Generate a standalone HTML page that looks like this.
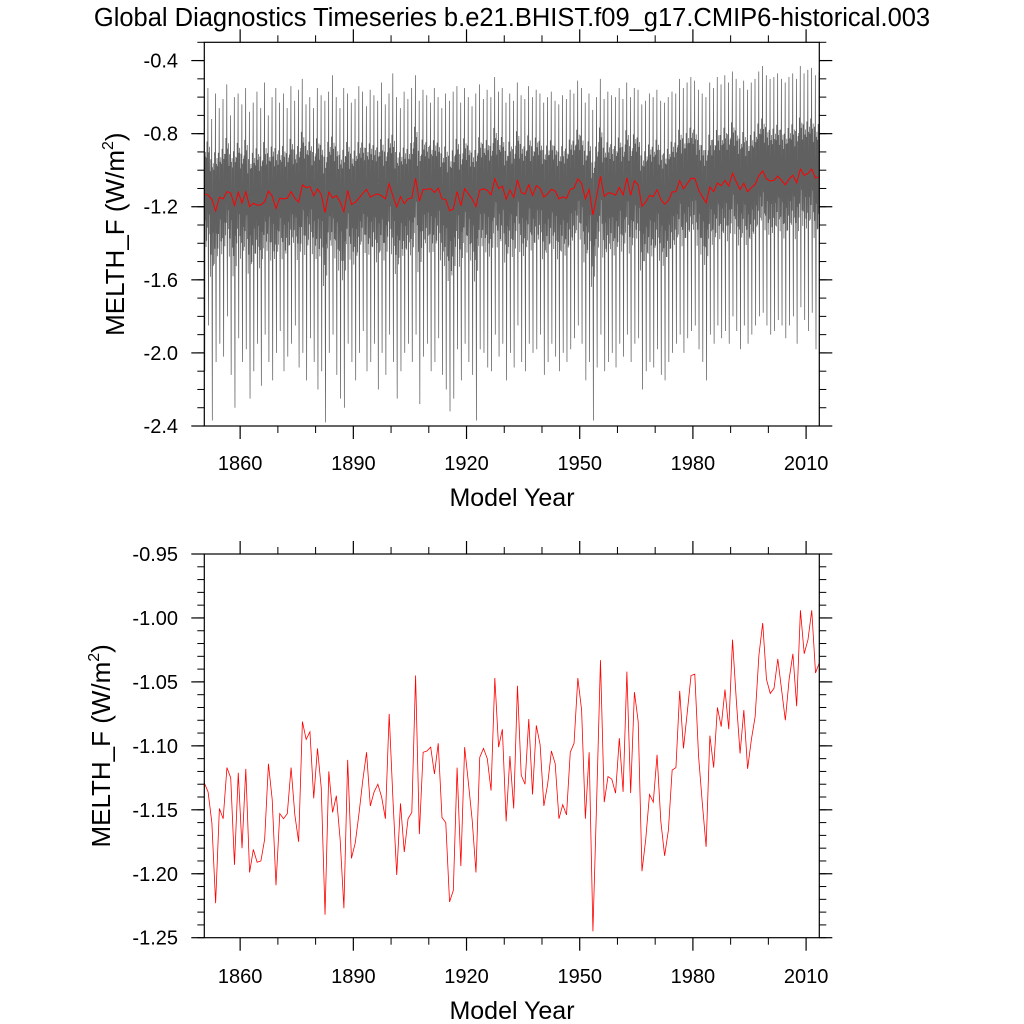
<!DOCTYPE html>
<html><head><meta charset="utf-8"><style>
html,body{margin:0;padding:0;background:#fff;}
svg{display:block;font-family:"Liberation Sans",Arial,sans-serif;}
</style></head><body>
<svg id="chart" width="1024" height="1024" viewBox="0 0 1024 1024" xmlns="http://www.w3.org/2000/svg">
<text x="512" y="26" font-size="25.5" text-anchor="middle">Global Diagnostics Timeseries b.e21.BHIST.f09_g17.CMIP6-historical.003</text>
<g id="top"></g>
<g id="bot"></g>
</svg>
<script>
// annual means (1850.5 .. 2013.5)
const annualValues = [-1.129,-1.136,-1.160,-1.223,-1.149,-1.157,-1.117,-1.125,-1.193,-1.121,-1.180,-1.118,-1.199,-1.181,-1.191,-1.190,-1.173,-1.114,-1.142,-1.209,-1.153,-1.157,-1.153,-1.117,-1.154,-1.175,-1.081,-1.095,-1.089,-1.141,-1.102,-1.133,-1.232,-1.120,-1.152,-1.139,-1.173,-1.227,-1.111,-1.188,-1.176,-1.153,-1.127,-1.105,-1.147,-1.136,-1.130,-1.140,-1.157,-1.075,-1.142,-1.201,-1.145,-1.183,-1.157,-1.152,-1.045,-1.169,-1.105,-1.104,-1.101,-1.122,-1.098,-1.156,-1.160,-1.222,-1.213,-1.117,-1.194,-1.101,-1.129,-1.158,-1.199,-1.109,-1.102,-1.110,-1.135,-1.047,-1.101,-1.087,-1.159,-1.108,-1.149,-1.053,-1.123,-1.130,-1.079,-1.138,-1.084,-1.099,-1.147,-1.130,-1.104,-1.114,-1.157,-1.146,-1.154,-1.105,-1.098,-1.047,-1.072,-1.157,-1.105,-1.245,-1.142,-1.033,-1.144,-1.124,-1.126,-1.137,-1.094,-1.136,-1.042,-1.137,-1.058,-1.081,-1.198,-1.173,-1.138,-1.144,-1.107,-1.159,-1.186,-1.166,-1.119,-1.117,-1.057,-1.102,-1.074,-1.045,-1.044,-1.108,-1.145,-1.179,-1.092,-1.117,-1.070,-1.085,-1.056,-1.087,-1.017,-1.064,-1.106,-1.072,-1.118,-1.095,-1.077,-1.029,-1.004,-1.048,-1.059,-1.055,-1.032,-1.056,-1.080,-1.048,-1.028,-1.069,-0.994,-1.028,-1.017,-0.994,-1.043,-1.035];
// yearly monthly extremes (estimated)
const yearHigh = [-0.62,-0.55,-0.72,-0.58,-0.66,-0.61,-0.53,-0.70,-0.60,-0.58,-0.64,-0.55,-0.68,-0.63,-0.57,-0.66,-0.52,-0.70,-0.60,-0.55,-0.63,-0.58,-0.66,-0.54,-0.62,-0.56,-0.50,-0.64,-0.60,-0.66,-0.55,-0.59,-0.62,-0.57,-0.48,-0.60,-0.66,-0.55,-0.58,-0.63,-0.61,-0.54,-0.57,-0.65,-0.56,-0.59,-0.62,-0.52,-0.64,-0.58,-0.47,-0.60,-0.66,-0.57,-0.61,-0.55,-0.48,-0.62,-0.56,-0.59,-0.63,-0.55,-0.60,-0.66,-0.58,-0.62,-0.57,-0.54,-0.63,-0.55,-0.60,-0.65,-0.58,-0.53,-0.61,-0.56,-0.60,-0.49,-0.57,-0.55,-0.63,-0.58,-0.62,-0.52,-0.59,-0.61,-0.54,-0.60,-0.56,-0.58,-0.63,-0.60,-0.57,-0.62,-0.64,-0.59,-0.61,-0.56,-0.58,-0.51,-0.55,-0.63,-0.58,-0.67,-0.60,-0.50,-0.61,-0.57,-0.59,-0.60,-0.55,-0.61,-0.52,-0.60,-0.55,-0.56,-0.64,-0.62,-0.58,-0.60,-0.56,-0.62,-0.63,-0.60,-0.57,-0.58,-0.50,-0.55,-0.52,-0.49,-0.51,-0.56,-0.58,-0.60,-0.52,-0.55,-0.49,-0.53,-0.48,-0.52,-0.46,-0.50,-0.55,-0.51,-0.56,-0.52,-0.50,-0.46,-0.43,-0.48,-0.50,-0.49,-0.47,-0.50,-0.52,-0.49,-0.47,-0.50,-0.43,-0.47,-0.45,-0.44,-0.48,-0.46];
const yearLow = [-2.10,-1.85,-2.37,-2.05,-1.95,-2.02,-1.80,-2.12,-2.30,-1.92,-2.05,-1.98,-2.25,-2.10,-1.95,-2.18,-1.90,-2.05,-2.15,-2.00,-1.88,-2.10,-2.02,-1.95,-1.85,-2.08,-2.00,-2.15,-1.92,-2.05,-2.20,-2.10,-2.38,-2.00,-1.90,-2.12,-2.25,-2.30,-1.95,-2.05,-2.15,-2.00,-1.88,-2.10,-2.05,-1.95,-2.20,-2.00,-2.12,-1.90,-2.05,-2.25,-2.10,-2.00,-1.95,-2.05,-1.90,-2.28,-2.02,-1.95,-2.10,-2.05,-1.92,-2.12,-2.20,-2.32,-2.25,-1.98,-2.15,-1.95,-2.05,-2.12,-2.37,-1.98,-2.00,-2.08,-2.10,-1.90,-2.02,-1.95,-2.15,-2.00,-2.08,-1.85,-2.05,-2.10,-1.95,-2.00,-1.98,-1.90,-2.12,-2.05,-1.95,-2.02,-2.10,-2.00,-2.05,-1.98,-1.92,-1.85,-1.95,-2.15,-2.05,-2.37,-2.08,-1.90,-2.10,-2.05,-2.00,-2.08,-1.95,-2.02,-1.90,-2.05,-1.95,-1.92,-2.20,-2.10,-2.05,-2.08,-1.98,-2.12,-2.15,-2.05,-2.00,-1.95,-1.90,-2.00,-1.92,-1.88,-1.85,-1.98,-2.05,-2.15,-1.90,-1.95,-1.85,-1.92,-1.88,-1.95,-1.80,-1.88,-1.98,-1.85,-1.95,-1.90,-1.85,-1.80,-1.78,-1.85,-1.90,-1.88,-1.82,-1.85,-1.92,-1.85,-1.80,-1.95,-1.75,-1.82,-1.88,-1.78,-1.98,-1.85];
// seasonal position of each month: +1 = yearly high, -1 = yearly low, 0 = annual mean
const monthShape = [0.35,-0.35,0.5,-0.25,0.2,1.0,-0.4,-1.0,0.4,-0.15,0.45,-0.3];
const topTicks = [-0.4,-0.8,-1.2,-1.6,-2.0,-2.4];
const topTickLabels = ["-0.4","-0.8","-1.2","-1.6","-2.0","-2.4"];
const botTicks = [-0.95,-1.00,-1.05,-1.10,-1.15,-1.20,-1.25];
const botTickLabels = ["-0.95","-1.00","-1.05","-1.10","-1.15","-1.20","-1.25"];
const yearTicks = [1860,1890,1920,1950,1980,2010];
const yearTickLabels = ["1860","1890","1920","1950","1980","2010"];
const firstYear = 1850.5;

const NS="http://www.w3.org/2000/svg";
function mk(parent,tag,attrs,text){const e=document.createElementNS(NS,tag);for(const k in attrs)e.setAttribute(k,attrs[k]);if(text!=null)e.textContent=text;parent.appendChild(e);return e;}
const X0=204.3,X1=819.3,Y1=firstYear, Y2=firstYear+annualValues.length-1;
function xs(yr){return X0+(yr-Y1)/(Y2-Y1)*(X1-X0);}

function panel(g,top,bottom,vmax,vmin,ticks,labels,minorStep,titleX,labelX,tickLabY,xlabY){
  const ys=v=>top+(vmax-v)/(vmax-vmin)*(bottom-top);
  for(let v=vmin;v<=vmax+1e-9;v+=minorStep){const y=ys(v);
    const t1=mk(g,'line',{x1:X0,x2:X0-7,y1:y,y2:y,stroke:'#000','stroke-width':1});
    
    const t2=mk(g,'line',{x1:X1,x2:X1+7,y1:y,y2:y,stroke:'#000','stroke-width':1});
    }
  ticks.forEach((v,i)=>{const y=ys(v);
    const a=mk(g,'line',{x1:X0,x2:X0-13,y1:y,y2:y,stroke:'#000','stroke-width':1.2});
    
    const b=mk(g,'line',{x1:X1,x2:X1+13,y1:y,y2:y,stroke:'#000','stroke-width':1.2});
    
    const t=mk(g,'text',{x:labelX,y:y+7,'font-size':20,'text-anchor':'end'},labels[i]);
    });
  for(let yr=1860;yr<=2010;yr+=10){const x=xs(yr);const major=(yr-1860)%30===0;const L=major?13:7;
    const a=mk(g,'line',{x1:x,x2:x,y1:top,y2:top-L,stroke:'#000','stroke-width':major?1.2:1});
    
    const b=mk(g,'line',{x1:x,x2:x,y1:bottom,y2:bottom+L,stroke:'#000','stroke-width':major?1.2:1});
    }
  yearTicks.forEach((yr,i)=>{const t=mk(g,'text',{x:xs(yr),y:tickLabY,'font-size':20,'text-anchor':'middle'},yearTickLabels[i]);
    });
  const xl=mk(g,'text',{x:512,y:xlabY,'font-size':25,'text-anchor':'middle'},'Model Year');
  
  const cy=(top+bottom)/2;
  const yl=mk(g,'text',{x:0,y:0,'font-size':26,'text-anchor':'middle',transform:`translate(${titleX},${cy}) rotate(-90)`});
  
  yl.appendChild(document.createTextNode('MELTH_F (W/m'));
  mk(yl,'tspan',{'font-size':16,dy:-11},'2');
  mk(yl,'tspan',{dy:11},')');
  return ys;
}
function frame(g,top,bottom){const f=mk(g,'rect',{x:X0,y:top,width:X1-X0,height:bottom-top,fill:'none',stroke:'#000','stroke-width':1.2});
  }

// top panel
const gt=document.getElementById('top');
const ysT=panel(gt,42.3,426,-0.3,-2.4,topTicks,topTickLabels,0.1,124,178,470,506);
let pts=[];
annualValues.forEach((m,i)=>{const hi=yearHigh[i],lo=yearLow[i];
  monthShape.forEach((s,k)=>{const yr=firstYear+i+(k-5.5)/12;
    if(yr<Y1||yr>Y2)return;
    const v=s>=0?m+s*(hi-m):m+(-s)*(lo-m);pts.push(xs(yr).toFixed(2)+','+ysT(v).toFixed(2));});});
const ml=mk(gt,'polyline',{points:pts.join(' '),fill:'none',stroke:'#606060','stroke-width':0.75});

const am=mk(gt,'polyline',{points:annualValues.map((v,i)=>xs(firstYear+i).toFixed(2)+','+ysT(v).toFixed(2)).join(' '),fill:'none',stroke:'#ff0000','stroke-width':1});

frame(gt,42.3,426);

// bottom panel
const gb=document.getElementById('bot');
const ysB=panel(gb,554,937.7,-0.95,-1.25,botTicks,botTickLabels,0.01,110,178,983,1019);
const bl=mk(gb,'polyline',{points:annualValues.map((v,i)=>xs(firstYear+i).toFixed(2)+','+ysB(v).toFixed(2)).join(' '),fill:'none',stroke:'#ff0000','stroke-width':0.8});

frame(gb,554,937.7);
</script>
</body></html>
